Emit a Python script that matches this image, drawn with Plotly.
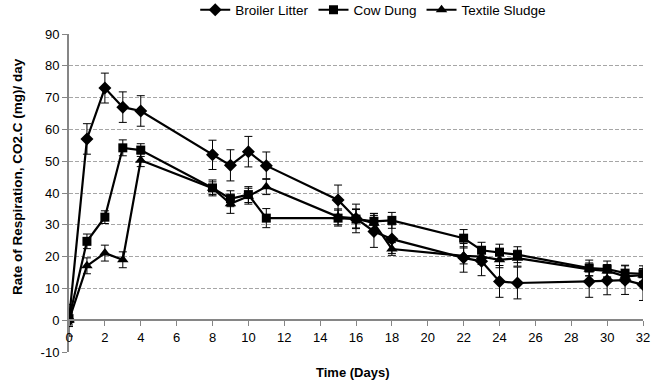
import plotly.graph_objects as go

# Sampling days
days = [0, 1, 2, 3, 4, 8, 9, 10, 11, 15, 16, 17, 18, 22, 23, 24, 25, 29, 30, 31, 32]

# Rate of respiration, CO2-C (mg)/day, with standard error
broiler = [0, 57, 73, 67, 65.8, 52, 48.7, 53, 48.6, 37.8, 32, 27.9, 25.5, 19.6, 18.5, 12.2, 11.7, 12.2, 12.5, 12.6, 11.2]
broiler_err = [5, 4.8, 4.7, 4.8, 4.8, 4.6, 4.9, 4.8, 4.3, 4.7, 4.5, 5, 4.5, 4.5, 4.5, 5, 5, 5, 4.5, 4.5, 5]

cow_dung = [0.5, 24.8, 32.4, 54.2, 53.5, 41.6, 38.2, 39.5, 32.1, 32.1, 31.8, 31.1, 31.4, 25.8, 22, 21.4, 20.6, 16.4, 16.1, 14.8, 14.6]
cow_err = [2, 2.3, 2, 2.5, 2, 2.5, 2.5, 2.5, 3, 2.5, 3, 2.5, 2.5, 2.7, 2.5, 2.5, 2.5, 2.5, 2.5, 2.5, 2.5]

textile = [0, 17.1, 21.1, 19, 50.3, 41.5, 36.6, 39, 42, 32.5, 32, 30.5, 22.4, 20.2, 20, 19, 19.5, 16, 15.5, 13.8, 14.2]
textile_err = [2, 2.5, 2.5, 2.5, 2, 2, 3, 2.5, 2.5, 2.5, 3, 3, 2, 2.5, 2.5, 2.5, 2.5, 2, 2, 2, 2]

x_ticks = list(range(0, 33, 2))
y_ticks = list(range(-10, 91, 10))

series = [
    ("Broiler Litter", broiler, broiler_err, "diamond", 10),
    ("Cow Dung", cow_dung, cow_err, "square", 9),
    ("Textile Sludge", textile, textile_err, "triangle-up", 10),
]

FONT = "Liberation Sans, Arial, sans-serif"

fig = go.Figure()
for name, vals, errs, sym, size in series:
    fig.add_trace(go.Scatter(
        x=days, y=vals, name=name, mode="lines+markers",
        line=dict(color="black", width=2.2),
        marker=dict(symbol=sym, size=size, color="black"),
        error_y=dict(type="data", array=errs, visible=True,
                     color="black", thickness=1, width=4),
    ))

fig.update_layout(
    width=653, height=383,
    margin=dict(l=69, r=10, t=34, b=31, autoexpand=False),
    paper_bgcolor="white", plot_bgcolor="white",
    font=dict(family=FONT, size=13, color="black"),
    showlegend=True,
    legend=dict(orientation="h", x=0.53, xanchor="center",
                yref="container", y=0.974, yanchor="middle",
                font=dict(size=13.5), itemwidth=30, tracegroupgap=0,
                bgcolor="rgba(0,0,0,0)"),
    xaxis=dict(
        range=[0, 32], tickvals=x_ticks, ticktext=[str(v) for v in x_ticks],
        showgrid=False, zeroline=False,
        showline=True, linecolor="#868686", linewidth=2,
        ticks="outside", ticklen=5, tickcolor="#868686", tickwidth=1,
        anchor="free", position=0.1,
        tickfont=dict(size=13),
    ),
    yaxis=dict(
        range=[-10, 90], tickvals=y_ticks, ticktext=[str(v) for v in y_ticks],
        showgrid=True, gridcolor="#a6a6a6", griddash="4px,2px", gridwidth=1,
        zeroline=False,
        showline=True, linecolor="#868686", linewidth=2,
        ticks="outside", ticklen=5, tickcolor="#868686",
        tickfont=dict(size=13),
    ),
    annotations=[
        dict(text="<b>Time (Days)</b>", xref="paper", yref="paper",
             x=0.494, y=-0.064, xanchor="center", yanchor="middle",
             showarrow=False, font=dict(family=FONT, size=13)),
        dict(text="<b>Rate of Respiration, CO2.C (mg)/ day</b>", xref="paper", yref="paper",
             x=-0.091, y=0.553, xanchor="center", yanchor="middle", textangle=-90,
             showarrow=False, font=dict(family=FONT, size=13.5)),
    ],
)

fig.write_html("out.html")
